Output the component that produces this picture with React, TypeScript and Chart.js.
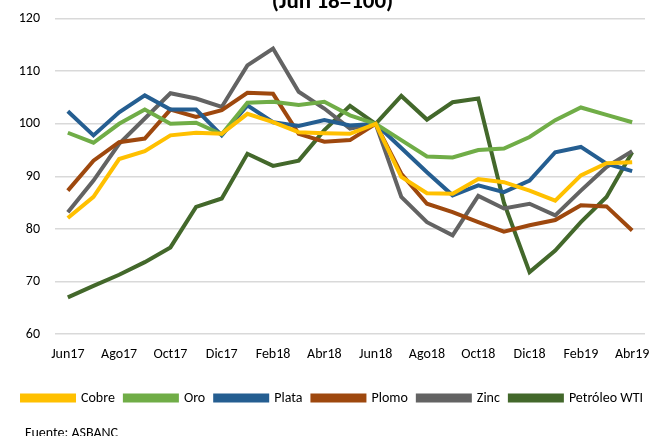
import React, { useEffect, useRef } from "react";
import { Chart, registerables } from "chart.js";

Chart.register(...registerables);

const months = [
  "Jun17", "Jul17", "Ago17", "Sep17", "Oct17", "Nov17", "Dic17", "Ene18",
  "Feb18", "Mar18", "Abr18", "May18", "Jun18", "Jul18", "Ago18", "Sep18",
  "Oct18", "Nov18", "Dic18", "Ene19", "Feb19", "Mar19", "Abr19",
];

const cobre = [82.1, 86.1, 93.3, 94.8, 97.8, 98.3, 98.1, 101.9, 100.3, 98.4, 98.2, 98.1, 100, 89.9, 86.8, 86.7, 89.5, 88.9, 87.3, 85.4, 90.2, 92.5, 92.7];
const oro = [98.3, 96.4, 100.0, 102.7, 100.0, 100.2, 98.0, 104.0, 104.2, 103.6, 104.2, 101.6, 100, 96.9, 93.8, 93.6, 95.0, 95.3, 97.5, 100.7, 103.1, 101.7, 100.3];
const plata = [102.4, 97.8, 102.2, 105.4, 102.7, 102.7, 97.8, 103.5, 100.3, 99.6, 100.7, 99.7, 100, 95.4, 90.8, 86.4, 88.3, 87.0, 89.2, 94.6, 95.6, 92.4, 91.0];
const plomo = [87.3, 93.0, 96.5, 97.2, 102.7, 101.3, 102.6, 105.9, 105.7, 98.1, 96.6, 96.9, 100, 90.5, 84.8, 83.2, 81.3, 79.5, 80.7, 81.7, 84.5, 84.3, 79.7];
const zinc = [83.2, 89.2, 96.2, 101.0, 105.8, 104.8, 103.2, 111.1, 114.3, 106.1, 102.9, 99.1, 100, 86.1, 81.3, 78.8, 86.3, 83.9, 84.8, 82.6, 87.3, 91.8, 94.8];
const petroleo = [67.0, 69.2, 71.3, 73.7, 76.5, 84.2, 85.8, 94.3, 92.0, 93.0, 98.8, 103.4, 100, 105.3, 100.8, 104.1, 104.8, 85.0, 71.8, 75.9, 81.3, 86.1, 94.6];

const seriesNames = ["Cobre", "Oro", "Plata", "Plomo", "Zinc", "Petróleo WTI"];
const seriesColors = ["#FFC000", "#70AD47", "#255E91", "#9E480E", "#636363", "#43682B"];
const seriesValues = [cobre, oro, plata, plomo, zinc, petroleo];

const titleText = "(Jun 18=100)";
const sourceText = "Fuente: ASBANC";
const FONT = "Carlito, Lato, sans-serif";

const CANVAS_W = 665;
const CANVAS_H = 466;
const OFFSET_TOP = -30;

const sourcePlugin = {
  id: "sourceNote",
  afterDraw(chart: any) {
    const ctx = chart.ctx;
    ctx.save();
    ctx.font = `14px ${FONT}`;
    ctx.fillStyle = "#000000";
    ctx.textAlign = "left";
    ctx.textBaseline = "middle";
    ctx.fillText(sourceText, 25, chart.height - 3);
    ctx.restore();
  },
};

export default function App() {
  const ref = useRef<HTMLCanvasElement | null>(null);

  useEffect(() => {
    document.body.style.margin = "0";
    document.body.style.overflow = "hidden";
    const canvas = ref.current;
    if (!canvas) return;
    const chart = new Chart(canvas, {
      type: "line",
      data: {
        labels: months,
        datasets: seriesNames.map((name, i) => ({
          label: name,
          data: seriesValues[i],
          borderColor: seriesColors[i],
          backgroundColor: seriesColors[i],
          borderWidth: 4,
          pointRadius: 0,
          tension: 0,
          fill: false,
          yAxisID: "y",
        })),
      },
      plugins: [sourcePlugin],
      options: {
        responsive: false,
        animation: false,
        devicePixelRatio: 1,
        layout: { padding: { left: 0, right: 0, top: 0, bottom: 21 } },
        plugins: {
          tooltip: { enabled: false },
          title: {
            display: true,
            text: titleText,
            color: "#000000",
            font: { family: FONT, size: 23, weight: "bold" },
            padding: { top: 18, bottom: 3 },
          },
          legend: {
            position: "bottom",
            labels: {
              boxWidth: 52,
              boxHeight: 5,
              padding: 10,
              color: "#000000",
              font: { family: FONT, size: 14 },
            },
          },
        },
        scales: {
          x: {
            offset: true,
            grid: { display: false, drawTicks: false },
            border: { display: false },
            ticks: {
              autoSkip: false,
              maxRotation: 0,
              padding: 12,
              color: "#000000",
              font: { family: FONT, size: 14 },
              callback: (_v: any, i: number) => (i % 2 === 0 ? months[i] : ""),
            },
            afterFit: (s: any) => {
              s.height += 6;
            },
          },
          y: {
            min: 60,
            max: 120,
            grid: { color: "#D9D9D9", lineWidth: 1.5, drawTicks: false },
            border: { display: false },
            ticks: {
              stepSize: 10,
              padding: 15,
              color: "#000000",
              font: { family: FONT, size: 14 },
            },
            afterFit: (s: any) => {
              s.width = 55;
            },
          },
          yRight: {
            type: "linear",
            position: "right",
            display: true,
            grid: { display: false, drawTicks: false },
            border: { display: false },
            ticks: { display: false },
            afterFit: (s: any) => {
              s.width = 20;
            },
          },
        },
      },
    });
    return () => chart.destroy();
  }, []);

  return (
    <div style={{ position: "absolute", left: 0, top: OFFSET_TOP, width: CANVAS_W, height: CANVAS_H }}>
      <canvas ref={ref} width={CANVAS_W} height={CANVAS_H} />
    </div>
  );
}
